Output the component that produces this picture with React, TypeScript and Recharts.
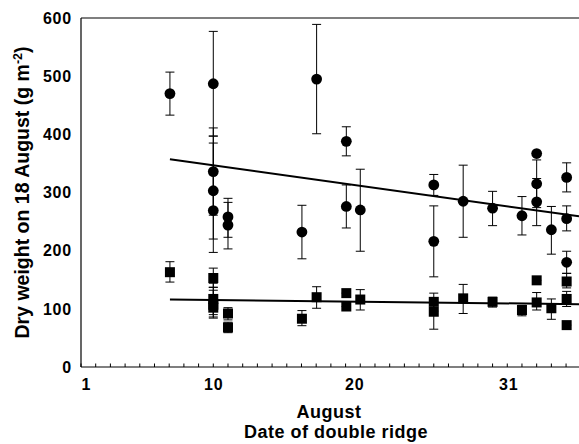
import React from 'react';
import { ComposedChart, Scatter, ErrorBar, XAxis, YAxis, ReferenceLine } from 'recharts';

// date of double ridge (day position on the axis) and dry weight on 18 August, g m-2
const circleDays = [7.05, 10, 10, 10, 10, 11, 11, 16.03, 17.03, 19.05, 19.05, 20, 25, 25, 27, 29, 31, 32, 32, 32, 33, 34.04, 34.04, 34.04];
const circleWeights = [470, 487, 336, 303, 269, 258, 244, 232, 495, 388, 276, 270, 313, 216, 285, 273, 260, 367, 315, 284, 236, 326, 255, 180];
const circleHigh = [507, 577, 411, 397, 385, 290, 283, 278, 589, 413, 313, 340, 331, 277, 347, 302, 293, 367, 356, 324, 276, 351, 277, 199];
const circleLow = [433, 397, 261, 220, 197, 223, 203, 186, 401, 363, 239, 199, 295, 155, 223, 243, 227, 367, 274, 243, 194, 301, 234, 161];

const squareDays = [7.05, 10, 10, 10, 10, 11, 11, 16.03, 17.03, 19.05, 19.05, 20, 25, 25, 27, 29, 31, 32, 32, 33, 34.04, 34.04, 34.04];
const squareWeights = [163, 153, 117, 107, 102, 92, 68, 83, 120, 127, 104, 116, 112, 95, 118, 112, 98, 149, 111, 101, 147, 117, 72];
const squareHigh = [181, 170, 144, 137, 132, 102, 77, 97, 138, 127, 104, 133, 127, 112, 142, 120, 106, 149, 128, 117, 161, 130, 72];
const squareLow = [146, 137, 90, 84, 86, 81, 59, 71, 101, 127, 104, 98, 96, 65, 92, 103, 88, 149, 98, 82, 136, 104, 72];

// fitted regression lines
const circleFitDays = [7.05, 34.88];
const circleFitWeights = [357, 259];
const squareFitDays = [7.05, 34.88];
const squareFitWeights = [116, 108];

const tickLabels = ['1', '10', '20', '31'];
const tickLabelDays = [1.34, 10, 19.6, 30.07];
const minorDays = Array.from({ length: 34 }, (_, i) => i + 1);
const yTicks = [0, 100, 200, 300, 400, 500, 600];

const FONT = '"Liberation Sans", Arial, sans-serif';

const withErr = (days: number[], w: number[], hi: number[], lo: number[]) =>
  days.map((x, i) => ({ x, y: w[i], err: [w[i] - lo[i], hi[i] - w[i]] }));

const circles = withErr(circleDays, circleWeights, circleHigh, circleLow);
const squares = withErr(squareDays, squareWeights, squareHigh, squareLow);
const circleFit = circleFitDays.map((x, i) => ({ x, y: circleFitWeights[i] }));
const squareFit = squareFitDays.map((x, i) => ({ x, y: squareFitWeights[i] }));

const xTicks = Array.from(new Set([...minorDays, ...tickLabelDays])).sort((a, b) => a - b);

function DayTick(props: any) {
  const { x, y, payload } = props;
  const v = payload.value;
  const li = tickLabelDays.indexOf(v);
  return (
    <g>
      {Number.isInteger(v) && <line x1={x} y1={y} x2={x} y2={y - 3.5} stroke="#000" strokeWidth={1} />}
      {li >= 0 && (
        <text x={x + 0.4} y={y + 23} textAnchor="middle" fontSize={16} fontWeight="bold" letterSpacing={0.8} fontFamily={FONT} fill="#000">
          {tickLabels[li]}
        </text>
      )}
    </g>
  );
}

const Dot = (p: any) => <circle cx={p.cx} cy={p.cy} r={5.4} fill="#000" />;
const Box = (p: any) => <rect x={p.cx - 5} y={p.cy - 5} width={10} height={10} fill="#000" />;
const NoDot = () => <g />;

export default function App() {
  return (
    <div style={{ position: 'absolute', left: 0, top: 0, width: 579, height: 444, overflow: 'hidden', background: '#fff' }}>
      <ComposedChart width={579} height={444} margin={{ top: 18, right: 0, left: 0, bottom: 47 }}>
        <XAxis
          dataKey="x"
          type="number"
          domain={[1, 34.88]}
          ticks={xTicks}
          interval={0}
          tick={<DayTick />}
          tickLine={false}
          tickSize={0}
          tickMargin={0}
          height={30}
          axisLine={{ stroke: '#000', strokeWidth: 1.2 }}
          allowDataOverflow
          label={{
            content: (p: any) => {
              const vb = p.viewBox || {};
              const cx = vb.x + vb.width / 2;
              return (
                <g fontFamily={FONT} fontWeight="bold" fontSize={18} letterSpacing={0.5} fill="#000">
                  <text x={cx - 1} y={vb.y + 51} textAnchor="middle">August</text>
                  <text x={cx + 6} y={vb.y + 71.2} textAnchor="middle">Date of double ridge</text>
                </g>
              );
            },
          }}
        />
        <YAxis
          dataKey="y"
          type="number"
          domain={[0, 600]}
          ticks={yTicks}
          width={81}
          tickLine={false}
          tickSize={0}
          tickMargin={9}
          axisLine={{ stroke: '#000', strokeWidth: 1.2 }}
          tick={{ fontSize: 16, fontWeight: 'bold', fill: '#000', fontFamily: FONT, letterSpacing: 0.8 }}
          label={{
            content: (p: any) => {
              const vb = p.viewBox || {};
              const cy = vb.y + vb.height / 2;
              const bx = 28.5;
              return (
                <text
                  x={bx}
                  y={cy}
                  transform={`rotate(-90 ${bx} ${cy})`}
                  textAnchor="middle"
                  fontFamily={FONT}
                  fontWeight="bold"
                  fontSize={19.5}
                  fill="#000"
                >
                  Dry weight on 18 August (g m
                  <tspan dy={-7} fontSize={12.5}>-2</tspan>
                  <tspan dy={7}>)</tspan>
                </text>
              );
            },
          }}
        />
        <ReferenceLine y={600} stroke="#000" strokeWidth={1.2} />
        <Scatter data={circleFit} shape={NoDot} line={{ stroke: '#000', strokeWidth: 2 }} lineType="joint" isAnimationActive={false} />
        <Scatter data={squareFit} shape={NoDot} line={{ stroke: '#000', strokeWidth: 2 }} lineType="joint" isAnimationActive={false} />
        <Scatter data={circles} shape={Dot} isAnimationActive={false}>
          <ErrorBar dataKey="err" direction="y" width={4.5} stroke="#000" strokeWidth={1} isAnimationActive={false} />
        </Scatter>
        <Scatter data={squares} shape={Box} isAnimationActive={false}>
          <ErrorBar dataKey="err" direction="y" width={4.5} stroke="#000" strokeWidth={1} isAnimationActive={false} />
        </Scatter>
      </ComposedChart>
    </div>
  );
}
